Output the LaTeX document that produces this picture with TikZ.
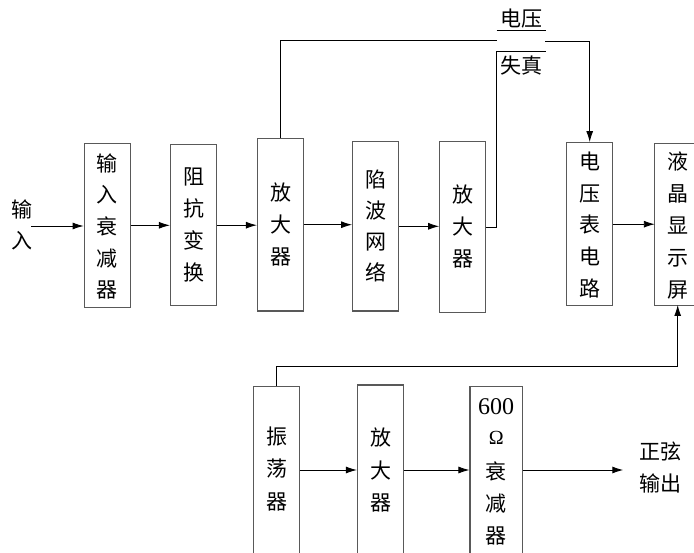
\documentclass[tikz,border=0pt]{standalone}
\usepackage{fontspec}
\setmainfont{Liberation Serif}
\newfontfamily\cjk{Noto Sans CJK SC}
\usetikzlibrary{arrows.meta}
\begin{document}
\begin{tikzpicture}[x=1pt,y=-1pt,
  edge/.style={draw=black!65, line width=1.2pt},
  blk/.style={edge, minimum width=46pt, inner sep=0pt},
  txt/.style={font=\cjk\fontsize{21}{32}\selectfont, align=center, inner sep=0pt},
  wire/.style={line width=0.9pt},
  arr/.style={wire, -{Latex[length=11pt,width=7pt]}}]
\useasboundingbox (0,0) rectangle (694,553);
\clip (0,0) rectangle (694,553);
% boxes
\node[blk, minimum height=164pt] (att) at (107.2,225.3) {};
\node[blk, minimum height=161pt] (imp) at (193.5,225.2) {};
\node[blk, minimum height=172.7pt] (amp1) at (280.5,224.7) {};
\node[blk, minimum height=169.3pt] (notch) at (375.7,226.3) {};
\node[blk, minimum height=171pt] (amp2) at (462.8,227.2) {};
\node[blk, minimum height=163pt] (vm) at (589.7,224.2) {};
\node[inner sep=0pt, minimum height=161pt, minimum width=70pt] (lcd) at (690,224.5) {};
\draw[edge] (lcd.north east) -- (lcd.north west) -- (lcd.south west) -- (lcd.south east);
\node[blk, minimum height=200pt] (osc) at (276.7,486.7) {};
\node[blk, minimum height=200pt] (amp3) at (380.5,485) {};
\node[blk, minimum height=200pt, minimum width=52.3pt] (att6) at (496.2,486.7) {};
\coordinate (lcdb) at (677.7,305);
% texts in boxes
\node[txt, font=\cjk\fontsize{21}{31.7}\selectfont] (tatt) at (107.2,226.5) {输\\入\\衰\\减\\器};
\node[txt] (timp) at (193.5,225) {阻\\抗\\变\\换};
\node[txt] (tamp1) at (280.5,225) {放\\大\\器};
\node[txt, font=\cjk\fontsize{21}{31}\selectfont] (tnotch) at (375.7,226) {陷\\波\\网\\络};
\node[txt] (tamp2) at (462.8,226.5) {放\\大\\器};
\node[txt, font=\cjk\fontsize{21}{31.6}\selectfont] (tvm) at (589.7,225) {电\\压\\表\\电\\路};
\node[txt] (tlcd) at (678,226) {液\\晶\\显\\示\\屏};
\node[txt, font=\cjk\fontsize{21}{32.5}\selectfont] (tosc) at (276.7,469) {振\\荡\\器};
\node[txt, font=\cjk\fontsize{21}{32.5}\selectfont] (tamp3) at (380.5,470) {放\\大\\器};
\node[inner sep=0pt, font=\fontsize{24}{24}\selectfont] (t600) at (496.2,407) {600};
\node[inner sep=0pt, font=\fontsize{20}{20}\selectfont] (tohm) at (496.2,438.3) {Ω};
\node[txt] (tatt6) at (496.2,503) {衰\\减\\器};
% free labels
\node[txt, font=\cjk\fontsize{21}{31}\selectfont] (tin) at (22,225) {输\\入};
\node[txt] (tout) at (660,468) {正弦\\输出};
\node[txt] (tvolt) at (521,19) {电压};
\node[txt] (tdist) at (521,66) {失真};
% coordinates
\coordinate (inp) at (31,226);
\coordinate (swL) at (496.7,40);
\coordinate (swR) at (545,41);
\coordinate (ulA) at (496.7,30.7);
\coordinate (ulB) at (546,30.7);
\coordinate (dsA) at (496.7,51.7);
\coordinate (dsB) at (546,51.7);
\coordinate (fb) at (496.7,227.2);
\coordinate (yo) at (0,366.7);
\coordinate (yb) at (0,470);
\coordinate (out) at (623.3,470);
% connectors
\draw[arr] (inp) -- (inp -| att.west);
\draw[arr] (att.east) -- (att.east -| imp.west);
\draw[arr] (imp.east) -- (imp.east -| amp1.west);
\draw[arr] (amp1.east) -- (amp1.east -| notch.west);
\draw[arr] (notch.east) -- (notch.east -| amp2.west);
\draw[wire] (amp2.east) -- (fb) -- (dsA) -- (dsB);
\draw[wire] (amp1.north) -- (amp1.north |- swL) -- (swL);
\draw[wire] (ulA) -- (ulB);
\draw[arr] (swR) -- (vm.north |- swR) -- (vm.north);
\draw[arr] (vm.east) -- (vm.east -| lcd.west);
\draw[arr] (osc.north) -- (osc.north |- yo) -- (lcdb |- yo) -- (lcdb);
\draw[arr] (osc.east |- yb) -- (amp3.west |- yb);
\draw[arr] (amp3.east |- yb) -- (att6.west |- yb);
\draw[arr] (att6.east |- yb) -- (out);
\end{tikzpicture}
\end{document}
